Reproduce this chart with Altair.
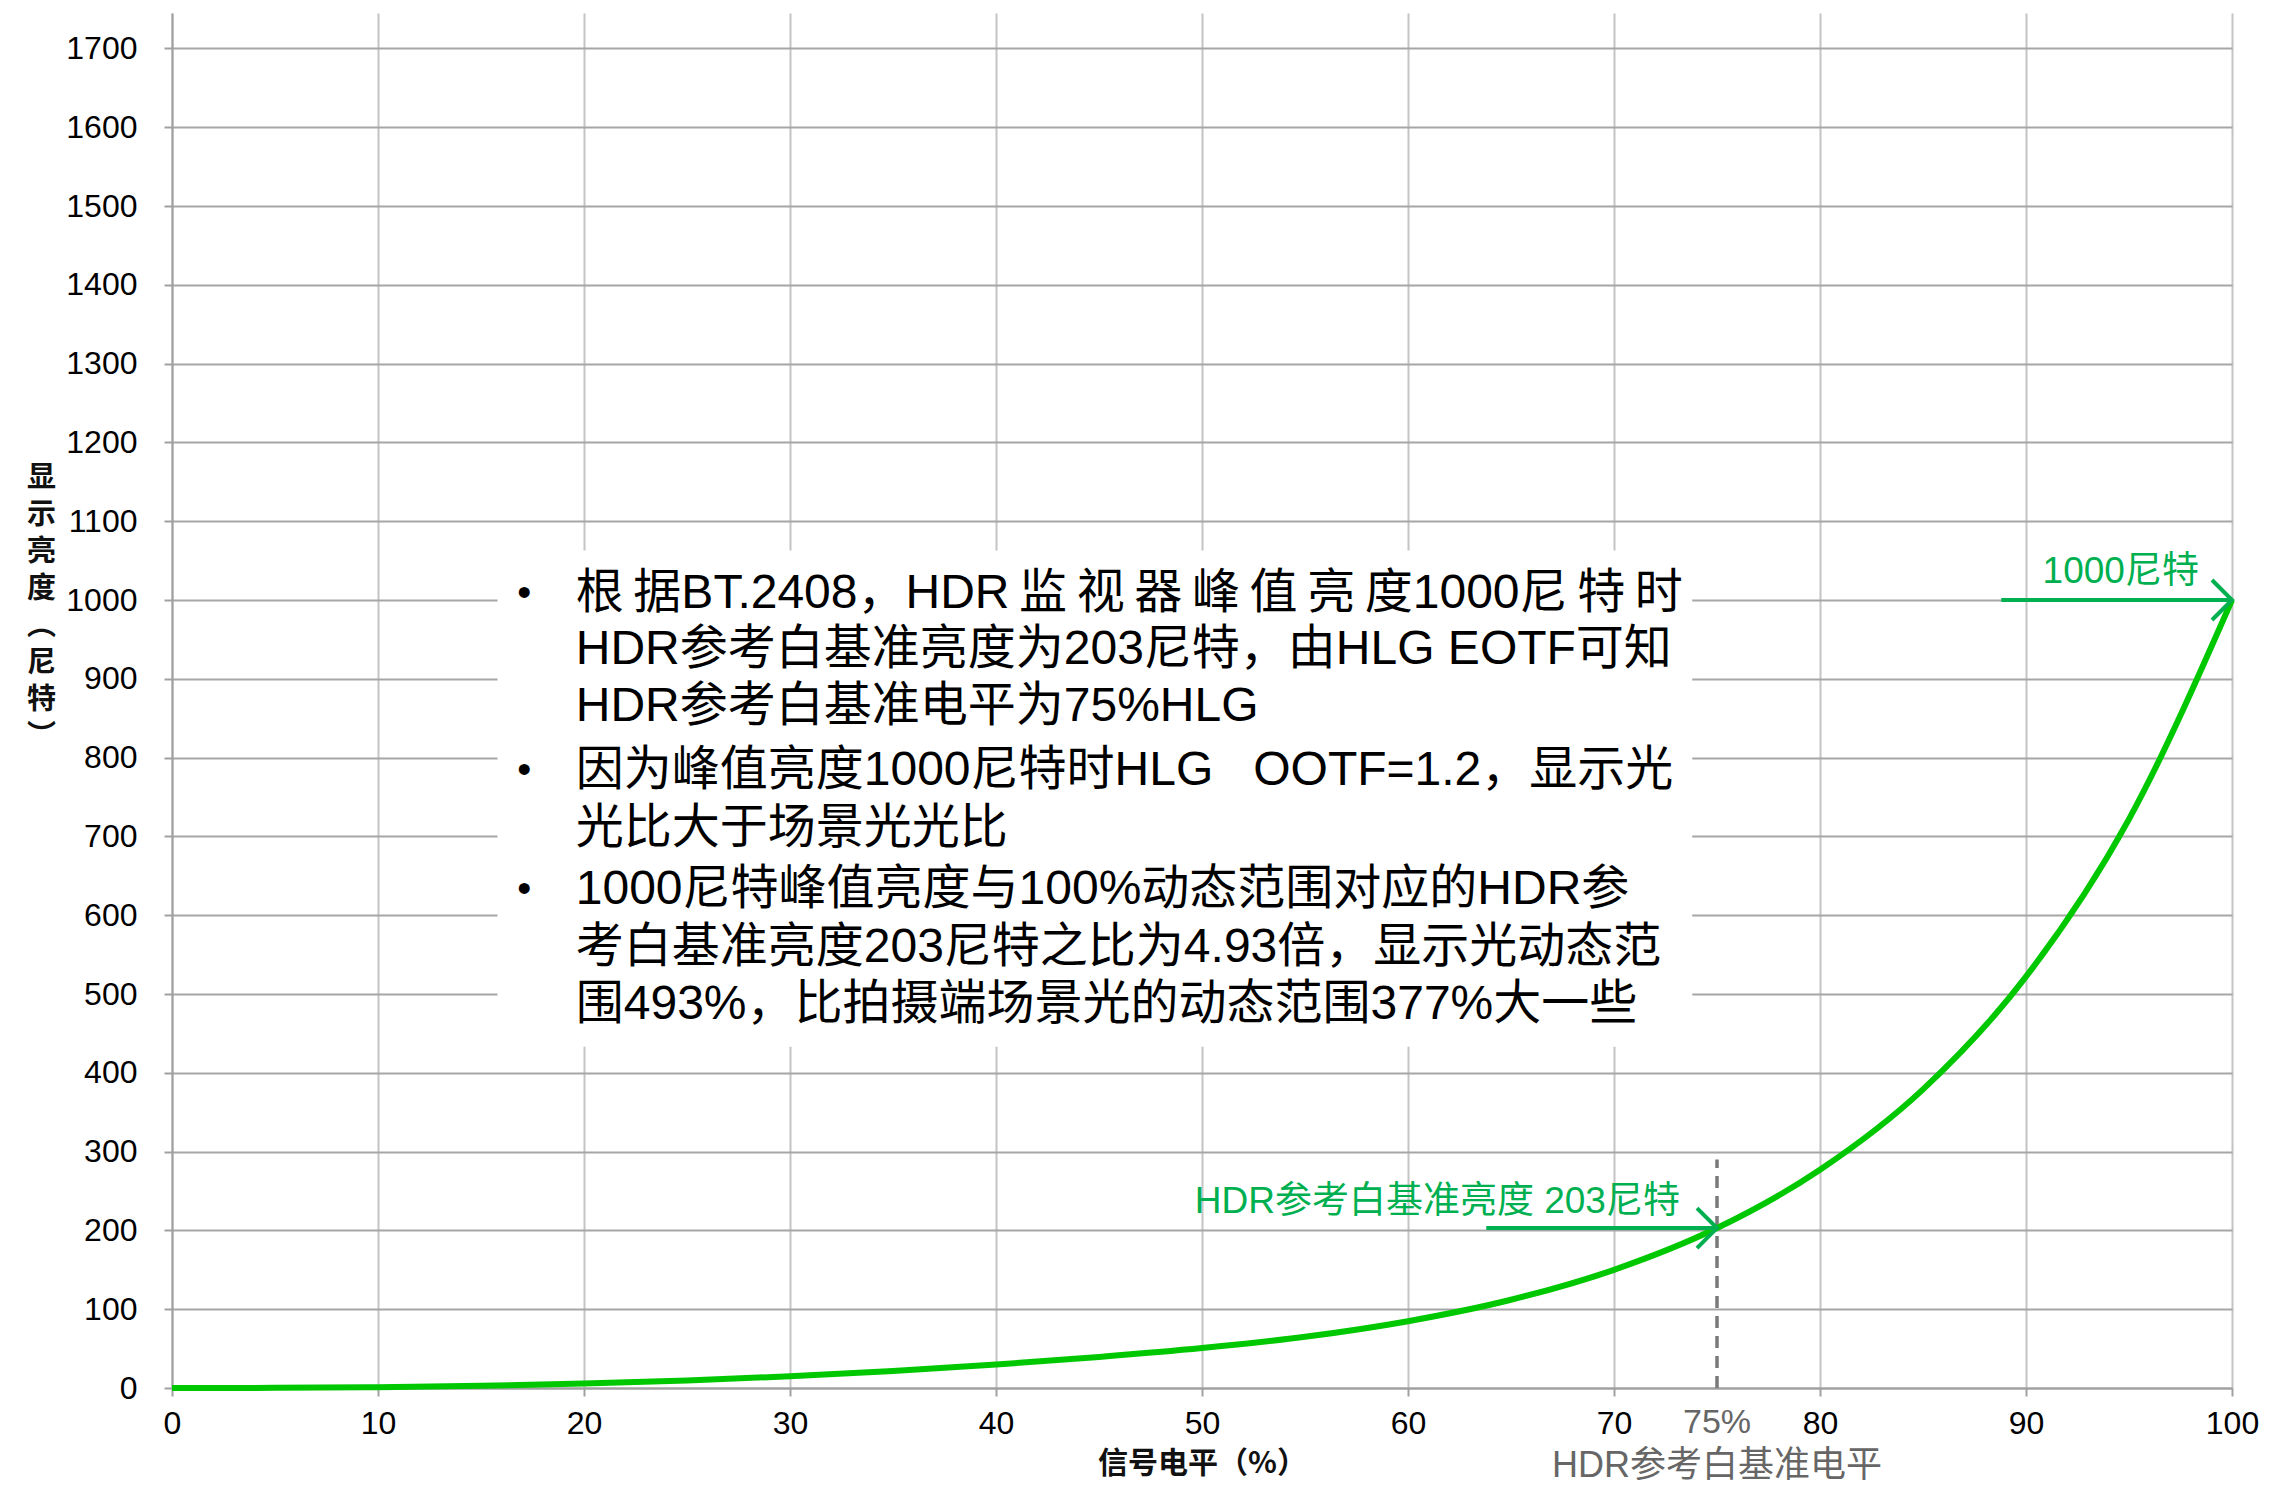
import altair as alt
import pandas as pd

# ---- data ----
signal = [0, 5, 10, 15, 20, 25, 30, 35, 40, 45, 50, 55, 60, 65, 70, 75, 80, 85, 90, 95, 100]
luminance = [0, 0.2, 1.1, 2.8, 5.6, 9.6, 14.9, 21.5, 29.7, 39.4, 50.7, 65, 84.8, 112, 150,
             203, 277, 379, 522, 722, 1000]

x_ticks = [0, 10, 20, 30, 40, 50, 60, 70, 80, 90, 100]
y_ticks = [0, 100, 200, 300, 400, 500, 600, 700, 800, 900, 1000, 1100, 1200, 1300, 1400,
           1500, 1600, 1700]

NB = "\u00a0"
TS = "\u2009"
box_lines = [
    f"根{TS}据BT.2408，HDR{TS}监{TS}视{TS}器{TS}峰{TS}值{TS}亮{TS}度1000尼{TS}特{TS}时",
    "HDR参考白基准亮度为203尼特，由HLG EOTF可知",
    "HDR参考白基准电平为75%HLG",
    f"因为峰值亮度1000尼特时HLG{NB}{NB}{NB}OOTF=1.2，显示光",
    "光比大于场景光光比",
    "1000尼特峰值亮度与100%动态范围对应的HDR参",
    "考白基准亮度203尼特之比为4.93倍，显示光动态范",
    "围493%，比拍摄端场景光的动态范围377%大一些",
]
box_line_y = [1008, 936, 864, 783, 709, 632, 558, 486]
bullet_y = [1008, 783, 632]

ref_level = 75
ref_lum = 203
peak_lum = 1000

GREEN_LINE = "#00c800"
GREEN_TXT = "#00b050"
FONT = "Liberation Sans, Noto Sans CJK SC"
CJK = "Noto Sans CJK SC"

# ---- tables ----
curve_df = pd.DataFrame({"x": signal, "y": luminance})
box_df = pd.DataFrame({"x": [15.8], "x2": [73.8], "y": [433], "y2": [1063]})
text_df = pd.DataFrame({"x": [19.6] * len(box_lines), "y": box_line_y, "t": box_lines})
bullet_df = pd.DataFrame({"x": [17.1] * len(bullet_y), "y": bullet_y, "t": ["•"] * len(bullet_y)})
arrow_df = pd.DataFrame({"x": [88.8, 63.8], "x2": [100, ref_level], "y": [peak_lum, ref_lum]})
head_df = pd.DataFrame({"x": [100, ref_level], "y": [peak_lum, ref_lum]})
green_txt_df = pd.DataFrame({
    "x": [94.6, 73.2],
    "y": [1035, 236],
    "t": ["1000尼特", "HDR参考白基准亮度 203尼特"],
})
dash_df = pd.DataFrame({"x": [ref_level], "y": [0], "y2": [290]})
pct_df = pd.DataFrame({"x": [ref_level], "y": [-44], "t": ["75%"]})
lvl_df = pd.DataFrame({"x": [ref_level], "y": [-99], "t": ["HDR参考白基准电平"]})

xscale = alt.Scale(domain=[0, 100], nice=False, zero=False)
yscale = alt.Scale(domain=[0, 1745], nice=False, zero=False)

xaxis = alt.Axis(values=x_ticks, format="d", title="信号电平（%）", grid=True, gridColor="#c4c4c4",
                 gridWidth=2, labelFontSize=32, labelFont="Liberation Sans", labelColor="#000",
                 labelPadding=12, labelFlush=False, titleFont=CJK, titleFontSize=30,
                 titleFontWeight="bold", titleColor="#111", titleBaseline="top", titleY=60)
yaxis = alt.Axis(values=y_ticks, format="d", title=list("显示亮度︵尼特︶"), grid=True,
                 gridColor="#a6a6a6", gridWidth=2, labelFontSize=32, labelFont="Liberation Sans",
                 labelColor="#000", labelPadding=27, labelFlush=False, titleAngle=0, titleX=-131,
                 titleY=450, titleAlign="center", titleBaseline="top", titleFont=CJK,
                 titleFontSize=29, titleFontWeight="bold", titleLineHeight=37, titleColor="#111")


def X(f="x"):
    return alt.X(f"{f}:Q", scale=xscale, axis=xaxis)


def Y(f="y"):
    return alt.Y(f"{f}:Q", scale=yscale, axis=yaxis)


curve = alt.Chart(curve_df).mark_line(color=GREEN_LINE, strokeWidth=6, interpolate="monotone").encode(
    x=X(), y=Y())

box = alt.Chart(box_df).mark_rect(fill="white").encode(x=X(), x2="x2:Q", y=Y(), y2="y2:Q")

box_text = alt.Chart(text_df).mark_text(align="left", baseline="middle", fontSize=48, font=FONT,
                                        color="#000").encode(x=X(), y=Y(), text="t:N")
bullets = alt.Chart(bullet_df).mark_text(align="center", baseline="middle", fontSize=40,
                                         font="Liberation Sans", color="#000").encode(
    x=X(), y=Y(), text="t:N")

dash = alt.Chart(dash_df).mark_rule(color="#7a7a7a", strokeWidth=3.5, strokeDash=[12, 8]).encode(
    x=X(), y=Y(), y2="y2:Q")

arrows = alt.Chart(arrow_df).mark_rule(color=GREEN_TXT, strokeWidth=4).encode(
    x=X(), x2="x2:Q", y=Y())
heads = alt.Chart(head_df).mark_point(shape="M-1,-1L0,0L-1,1", filled=False, size=1600,
                                      strokeWidth=4, color=GREEN_TXT, opacity=1).encode(x=X(), y=Y())

green_a = alt.Chart(green_txt_df.iloc[[0]]).mark_text(align="center", baseline="middle", fontSize=37,
                                                      font=FONT, color=GREEN_TXT).encode(
    x=X(), y=Y(), text="t:N")
green_b = alt.Chart(green_txt_df.iloc[[1]]).mark_text(align="right", baseline="middle", fontSize=37,
                                                      font=FONT, color=GREEN_TXT).encode(
    x=X(), y=Y(), text="t:N")

pct = alt.Chart(pct_df).mark_text(align="center", baseline="middle", fontSize=34, font=FONT,
                                  color="#666666").encode(x=X(), y=Y(), text="t:N")
lvl = alt.Chart(lvl_df).mark_text(align="center", baseline="middle", fontSize=36, font=FONT,
                                  color="#666666").encode(x=X(), y=Y(), text="t:N")

chart = alt.layer(box, dash, curve, arrows, heads, green_a, green_b, box_text, bullets, pct, lvl).properties(
    width=2060, height=1375,
    autosize=alt.AutoSizeParams(type="none"),
    padding={"left": 164, "top": 5, "right": 41, "bottom": 100},
).configure_view(stroke=None).configure_axis(
    domainColor="#a0a0a0", domainWidth=2, tickColor="#a0a0a0", tickWidth=2, tickSize=8,
)

chart.save("out.html", embed_options={"renderer": "svg", "actions": False})
